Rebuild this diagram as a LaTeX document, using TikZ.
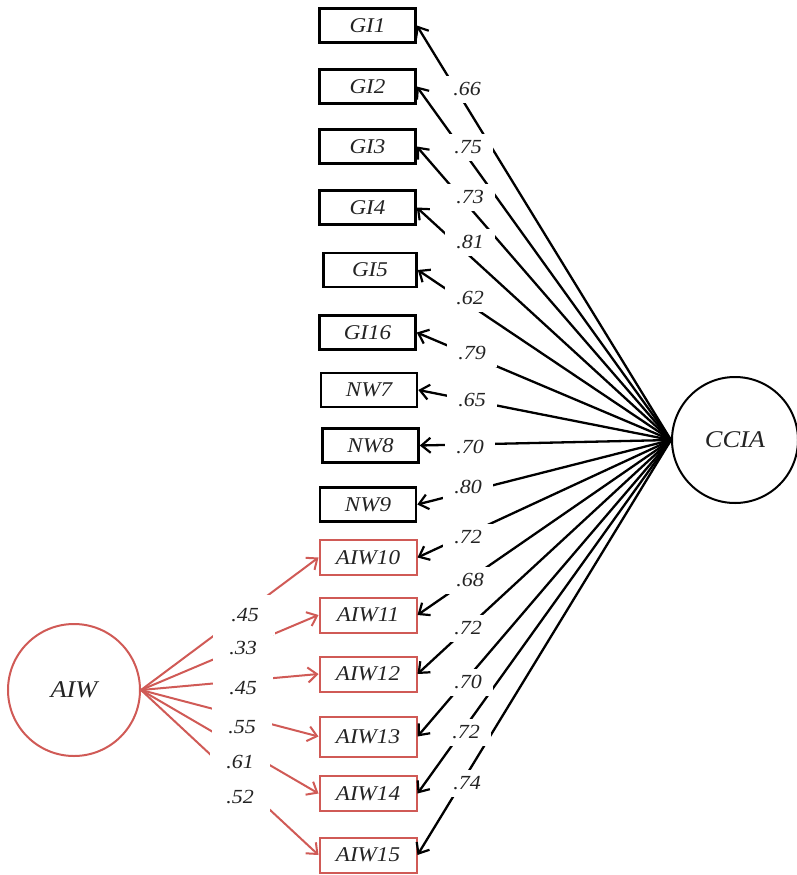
\documentclass[tikz,border=0pt]{standalone}
\usepackage{fontspec}
\setmainfont[FakeStretch=1.1]{Liberation Serif}
\usetikzlibrary{arrows.meta}
\definecolor{aiwred}{RGB}{208,90,86}
\definecolor{txt}{RGB}{35,35,35}
\begin{document}
\begin{tikzpicture}[x=1pt,y=-1pt,
  obs/.style={draw=black, line width=2.6pt, minimum width=96pt, minimum height=34pt, inner sep=0pt, text=txt, font=\fontsize{21}{23}\selectfont\itshape},
  obsred/.style={obs, draw=aiwred, line width=2pt, minimum width=97pt, minimum height=35pt},
  lat/.style={circle, draw, line width=2pt, inner sep=0pt, text=txt, font=\fontsize{24}{27}\selectfont\itshape},
  lbl/.style={fill=white, inner sep=0pt, minimum width=50pt, minimum height=27pt, text=txt, font=\fontsize{20}{22}\selectfont\itshape},
  lblred/.style={lbl, minimum width=60pt, minimum height=40pt},
  blk/.style={line width=2.3pt, -{Straight Barb[length=9pt,width=15pt,line width=2.2pt]}},
  redarr/.style={draw=aiwred, line width=2pt, -{Straight Barb[length=9pt,width=15pt,line width=2pt]}}]
\useasboundingbox (0,0) rectangle (796,875);

% latent variables
\node[lat, minimum size=126pt] (ccia) at (735,440) {CCIA};
\node[lat, draw=aiwred, minimum size=132pt] (aiw) at (74,690) {AIW};
\coordinate (cc) at (ccia.west);
\coordinate (ae) at (aiw.east);

% observed variables
\node[obs] (gi1)  at (367.5,25.5)  {GI1};
\node[obs] (gi2)  at (367.5,86.5)  {GI2};
\node[obs] (gi3)  at (367.5,146.5) {GI3};
\node[obs] (gi4)  at (367.5,207.5) {GI4};
\node[obs, minimum width=93pt] (gi5) at (370,270) {GI5};
\node[obs] (gi16) at (367.5,332.5) {GI16};
\node[obs] (nw7)  at (369,390)     {NW7};
\node[obs] (nw8)  at (370.5,445.5) {NW8};
\node[obs] (nw9)  at (368,504.5)   {NW9};
\node[obsred] (aiw10) at (368,557.5) {AIW10};
\node[obsred] (aiw11) at (368,615)   {AIW11};
\node[obsred] (aiw12) at (368,674)   {AIW12};
\node[obsred, minimum height=40pt] (aiw13) at (368,736.5) {AIW13};
\node[obsred] (aiw14) at (368,793.5) {AIW14};
\node[obsred] (aiw15) at (368,855)   {AIW15};

% CCIA loadings
\foreach \t in {gi1,gi2,gi3,gi4,gi5,gi16,nw7,nw8,nw9,aiw10,aiw11,aiw12,aiw13,aiw14,aiw15}
  \draw[blk] (cc) -- (\t.east);

% AIW loadings
\foreach \t in {aiw10,aiw11,aiw12,aiw13,aiw14,aiw15}
  \draw[redarr] (ae) -- (\t.west);

% CCIA labels
\node[lbl] (l1)  at (467,89)  {.66};
\node[lbl] (l2)  at (468,147) {.75};
\node[lbl] (l3)  at (470,197) {.73};
\node[lbl] (l4)  at (470,242) {.81};
\node[lbl] (l5)  at (470,298) {.62};
\node[lbl] (l6)  at (472,353) {.79};
\node[lbl] (l7)  at (472,400) {.65};
\node[lbl] (l8)  at (470,447) {.70};
\node[lbl] (l9)  at (468,487) {.80};
\node[lbl] (l10) at (468,537) {.72};
\node[lbl] (l11) at (470,580) {.68};
\node[lbl] (l12) at (468,628) {.72};
\node[lbl] (l13) at (468,682) {.70};
\node[lbl] (l14) at (466,732) {.72};
\node[lbl] (l15) at (467,783) {.74};

% AIW labels
\node[lblred] (r1) at (245,615) {.45};
\node[lblred] (r2) at (243,648) {.33};
\node[lblred] (r3) at (243,688) {.45};
\node[lblred] (r4) at (242,727) {.55};
\node[lblred] (r5) at (240,762) {.61};
\node[lblred] (r6) at (240,797) {.52};
\end{tikzpicture}
\end{document}
